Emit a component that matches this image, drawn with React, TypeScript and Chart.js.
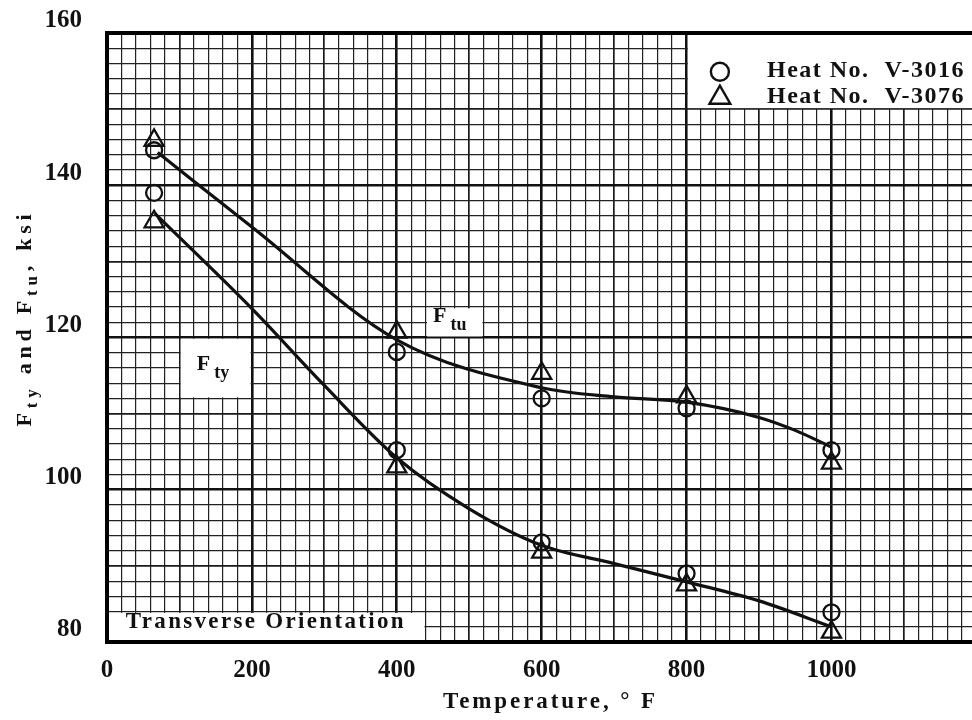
import React, { useEffect, useRef } from 'react';
import { Chart, registerables } from 'chart.js';

Chart.register(...registerables);

// ---- data ----
const temps = [65, 400, 600, 800, 1000];
const ftuHeat3016 = [144.6, 118.1, 112.0, 110.7, 105.2];
const ftyHeat3016 = [139.0, 105.2, 93.1, 89.0, 83.9];
const ftuHeat3076 = [145.9, 120.7, 115.3, 112.2, 103.5];
const ftyHeat3076 = [135.2, 103.0, 91.8, 87.5, 81.3];

const ftuCurveTemps = [70, 200, 400, 600, 700, 800, 900, 950, 1000];
const ftuCurve = [144.3, 134.5, 119.7, 113.4, 112.2, 111.5, 109.5, 107.8, 105.6];
const ftyCurveTemps = [66, 200, 300, 400, 500, 600, 700, 800, 900, 1000];
const ftyCurve = [136.3, 123.8, 113.7, 104.2, 97.5, 92.7, 90.3, 87.9, 85.4, 82.0];

const xTickLabels = [0, 200, 400, 600, 800, 1000];
const yTickLabels = [80, 100, 120, 140, 160];
const legendLabels = ['Heat No.  V-3016', 'Heat No.  V-3076'];
const xTitle = 'Temperature, \u00B0 F';
const noteText = 'Transverse Orientation';

const SERIF = '"Liberation Serif", "Times New Roman", serif';
const INK = '#111';

const pts = (xs: number[], ys: number[]) => xs.map((x, i) => ({ x, y: ys[i] }));

function fitText(ctx: CanvasRenderingContext2D, text: string, x: number, y: number, width: number) {
  const c: any = ctx;
  c.letterSpacing = '0px';
  const w = ctx.measureText(text).width;
  const ls = Math.max(0, (width - w) / text.length);
  c.letterSpacing = `${ls}px`;
  ctx.fillText(text, x, y);
  c.letterSpacing = '0px';
}

function drawCircle(ctx: CanvasRenderingContext2D, x: number, y: number, r: number) {
  ctx.beginPath();
  ctx.arc(x, y, r, 0, Math.PI * 2);
  ctx.stroke();
}
function drawTriangle(ctx: CanvasRenderingContext2D, x: number, y: number, r: number) {
  ctx.beginPath();
  let rad = 0;
  ctx.moveTo(x + Math.sin(rad) * r, y - Math.cos(rad) * r);
  rad += (2 * Math.PI) / 3;
  ctx.lineTo(x + Math.sin(rad) * r, y - Math.cos(rad) * r);
  rad += (2 * Math.PI) / 3;
  ctx.lineTo(x + Math.sin(rad) * r, y - Math.cos(rad) * r);
  ctx.closePath();
  ctx.stroke();
}

const paperPlugin = {
  id: 'paper',
  beforeDatasetsDraw(chart: any) {
    const { ctx, chartArea: a, scales } = chart;
    const xs = scales.x;
    const ys = scales.y;
    const px = (v: number) => xs.getPixelForValue(v);
    const py = (v: number) => ys.getPixelForValue(v);
    ctx.save();

    // white patches on the grid paper
    ctx.fillStyle = '#fff';
    const clear = (x0: number, x1: number, y0: number, y1: number) => {
      const l = px(x0) + 1.3;
      const r = x1 >= xs.max ? a.right : px(x1) - 1.3;
      const t = y1 >= ys.max ? a.top : py(y1) + 1.3;
      const b = y0 <= ys.min ? a.bottom : py(y0) - 1.0;
      ctx.fillRect(l, t, r - l, b - t);
    };
    clear(800, xs.max, 150, 160);
    clear(440, 520, 120, 124);
    clear(100, 200, 112, 120);
    clear(0, 440, 80, 84);

    ctx.fillStyle = INK;
    ctx.strokeStyle = INK;
    ctx.textBaseline = 'alphabetic';
    ctx.textAlign = 'left';

    // legend
    ctx.lineWidth = 2.4;
    drawCircle(ctx, px(846), py(154.9), 9);
    drawTriangle(ctx, px(846), py(151.5), 12);
    ctx.font = `bold 24px ${SERIF}`;
    fitText(ctx, legendLabels[0], px(911), py(154.2), 198);
    fitText(ctx, legendLabels[1], px(911), py(150.8), 198);

    // curve labels
    const subLabel = (main: string, sub: string, xv: number, yv: number) => {
      const x0 = px(xv);
      const y0 = py(yv);
      ctx.font = `bold 22px ${SERIF}`;
      ctx.fillText(main, x0, y0);
      const w = ctx.measureText(main).width;
      ctx.font = `bold 18px ${SERIF}`;
      ctx.fillText(sub, x0 + w + 4, y0 + 8);
    };
    subLabel('F', 'tu', 450, 122.0);
    subLabel('F', 'ty', 124, 115.7);

    // note box text
    ctx.font = `bold 23px ${SERIF}`;
    fitText(ctx, noteText, px(26), py(81.8), 280);

    // frame (top, left, bottom)
    ctx.strokeStyle = '#000';
    ctx.lineWidth = 4;
    ctx.beginPath();
    ctx.moveTo(a.right + 2, a.top);
    ctx.lineTo(a.left, a.top);
    ctx.lineTo(a.left, a.bottom);
    ctx.lineTo(a.right + 2, a.bottom);
    ctx.stroke();

    // x axis title
    ctx.fillStyle = INK;
    ctx.font = `bold 23px ${SERIF}`;
    fitText(ctx, xTitle, 443, 708, 215);

    // y axis title with subscripts
    ctx.save();
    ctx.translate(31, 318);
    ctx.rotate(-Math.PI / 2);
    const parts = [
      { t: 'F', s: false },
      { t: 'ty', s: true },
      { t: ' and F', s: false },
      { t: 'tu', s: true },
      { t: ', ksi', s: false },
    ];
    const fontFor = (s: boolean) => (s ? `bold 17px ${SERIF}` : `bold 22px ${SERIF}`);
    (ctx as any).letterSpacing = '0px';
    let natural = 0;
    let chars = 0;
    parts.forEach((p) => {
      ctx.font = fontFor(p.s);
      natural += ctx.measureText(p.t).width;
      chars += p.t.length;
    });
    const ls = Math.max(0, (217 - natural) / chars);
    (ctx as any).letterSpacing = `${ls}px`;
    let cx = -108.5;
    parts.forEach((p) => {
      ctx.font = fontFor(p.s);
      ctx.fillText(p.t, cx, p.s ? 6 : 0);
      cx += ctx.measureText(p.t).width;
    });
    (ctx as any).letterSpacing = '0px';
    ctx.restore();

    ctx.restore();
  },
};

const gridWidth = (v: number, major: number, mid: number) =>
  Math.abs(v % major) < 1e-6 ? 2.6 : Math.abs(v % mid) < 1e-6 ? 1.7 : 1.2;
const gridColor = (v: number, major: number, mid: number) =>
  Math.abs(v % major) < 1e-6 ? '#111' : Math.abs(v % mid) < 1e-6 ? '#1a1a1a' : '#222';

export default function App() {
  const ref = useRef<HTMLCanvasElement | null>(null);

  useEffect(() => {
    document.body.style.margin = '0';
    if (!ref.current) return;
    const markerCommon = {
      showLine: false,
      borderColor: INK,
      backgroundColor: 'rgba(0,0,0,0)',
      pointBackgroundColor: 'rgba(0,0,0,0)',
      pointBorderColor: INK,
      pointBorderWidth: 2.3,
      clip: false as any,
    };
    const curveCommon = {
      showLine: true,
      borderColor: INK,
      borderWidth: 3.2,
      pointRadius: 0,
      pointHoverRadius: 0,
      tension: 0.4,
      cubicInterpolationMode: 'monotone' as const,
      fill: false,
    };
    const chart = new Chart(ref.current, {
      type: 'scatter',
      data: {
        datasets: [
          { label: 'Ftu curve', data: pts(ftuCurveTemps, ftuCurve), ...curveCommon },
          { label: 'Fty curve', data: pts(ftyCurveTemps, ftyCurve), ...curveCommon },
          { label: legendLabels[0] + ' Ftu', data: pts(temps, ftuHeat3016), pointStyle: 'circle', pointRadius: 8, ...markerCommon },
          { label: legendLabels[0] + ' Fty', data: pts(temps, ftyHeat3016), pointStyle: 'circle', pointRadius: 8, ...markerCommon },
          { label: legendLabels[1] + ' Ftu', data: pts(temps, ftuHeat3076), pointStyle: 'triangle', pointRadius: 11, ...markerCommon },
          { label: legendLabels[1] + ' Fty', data: pts(temps, ftyHeat3076), pointStyle: 'triangle', pointRadius: 11, ...markerCommon },
        ],
      },
      options: {
        responsive: false,
        animation: false,
        events: [],
        layout: { autoPadding: false, padding: { top: 33, left: 0, right: 0, bottom: 0 } },
        plugins: { legend: { display: false }, tooltip: { enabled: false }, title: { display: false } },
        scales: {
          x: {
            type: 'linear',
            min: 0,
            max: 1194,
            afterBuildTicks: (s: any) => {
              const t = [];
              for (let v = 0; v <= 1180; v += 20) t.push({ value: v });
              s.ticks = t;
            },
            afterFit: (s: any) => {
              s.height = 78;
              s.paddingLeft = 0;
              s.paddingRight = 0;
            },
            border: { display: false },
            grid: {
              drawTicks: false,
              color: (c: any) => gridColor(c.tick.value, 200, 100),
              lineWidth: (c: any) => gridWidth(c.tick.value, 200, 100),
            },
            ticks: {
              autoSkip: false,
              maxRotation: 0,
              padding: 0,
              color: INK,
              font: { family: SERIF, size: 25, weight: 'bold', lineHeight: 2.26 },
              callback: (v: any) => (xTickLabels.includes(Number(v)) ? String(v) : ''),
            },
          },
          y: {
            type: 'linear',
            min: 80,
            max: 160,
            afterFit: (s: any) => {
              s.width = 107;
              s.paddingTop = 0;
              s.paddingBottom = 0;
            },
            border: { display: false },
            grid: {
              drawTicks: false,
              color: (c: any) => gridColor(c.tick.value, 20, 10),
              lineWidth: (c: any) => gridWidth(c.tick.value, 20, 10),
            },
            ticks: {
              stepSize: 2,
              autoSkip: false,
              padding: 25,
              labelOffset: -12,
              color: INK,
              font: { family: SERIF, size: 25, weight: 'bold', lineHeight: 0.3 },
              callback: (v: any) => (yTickLabels.includes(Number(v)) ? String(v) : ''),
            },
          },
        },
      } as any,
      plugins: [paperPlugin],
    });
    return () => chart.destroy();
  }, []);

  return (
    <div style={{ position: 'fixed', left: 0, top: 0, width: 972, height: 720, background: '#fff' }}>
      <canvas ref={ref} width={972} height={720} />
    </div>
  );
}
